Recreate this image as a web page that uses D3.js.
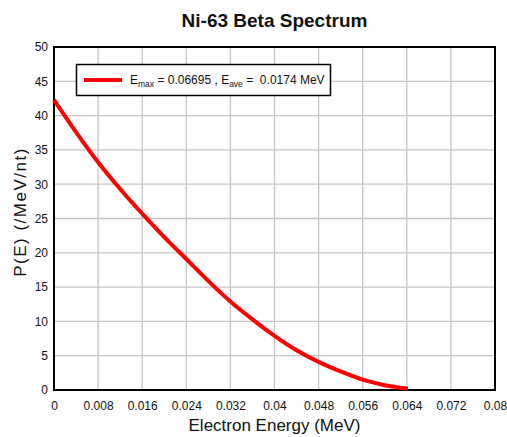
<!DOCTYPE html>
<html>
<head>
<meta charset="utf-8">
<script src="https://cdn.jsdelivr.net/npm/d3@7"></script>
<style>
  body { margin: 0; background: #fff; }
  svg { font-family: 'Liberation Sans', Arial, sans-serif; }
</style>
</head>
<body>
<div id="app"></div>
<script>
// energies (MeV) and probability P(E)
const energy = [0, 0.004, 0.008, 0.012, 0.016, 0.020, 0.024, 0.028, 0.032, 0.036, 0.040, 0.044, 0.048, 0.052, 0.056, 0.060, 0.0642]
const prob = [42.3, 37.6, 33.2, 29.3, 25.7, 22.3, 19.1, 15.9, 12.9, 10.3, 7.9, 5.8, 4.1, 2.7, 1.5, 0.7, 0.2]
const xTicks = [0, 0.008, 0.016, 0.024, 0.032, 0.04, 0.048, 0.056, 0.064, 0.072, 0.08]
const yTicks = [0, 5, 10, 15, 20, 25, 30, 35, 40, 45, 50]

const w = 507
const h = 437
const m = { left: 54, right: 12, top: 47, bottom: 47 }

const x = d3.scaleLinear().domain([0, 0.08]).range([m.left, w - m.right])
const y = d3.scaleLinear().domain([0, 50]).range([h - m.bottom, m.top])

const svg = d3.select('#app')
  .append('svg')
  .attr('width', w)
  .attr('height', h)

svg.append('text')
  .attr('x', 274.5)
  .attr('y', 27)
  .attr('text-anchor', 'middle')
  .style('font-size', '19px')
  .style('font-weight', 'bold')
  .attr('fill', '#111')
  .text('Ni-63 Beta Spectrum')

// grid
svg.append('g')
  .selectAll('line.vx')
  .data(xTicks.slice(1, -1))
  .enter()
  .append('line')
  .attr('x1', d => x(d)).attr('x2', d => x(d))
  .attr('y1', y(0)).attr('y2', y(50))
  .attr('stroke', '#c4c4c4').attr('stroke-width', 1.3)

svg.append('g')
  .selectAll('line.hy')
  .data(yTicks.slice(1, -1))
  .enter()
  .append('line')
  .attr('x1', x(0)).attr('x2', x(0.08))
  .attr('y1', d => y(d)).attr('y2', d => y(d))
  .attr('stroke', '#c4c4c4').attr('stroke-width', 1.3)

// axes labels
const xAxis = d3.axisBottom(x).tickValues(xTicks).tickSize(0).tickPadding(11).tickFormat(d => d3.format('')(+d.toFixed(3)))
const yAxis = d3.axisLeft(y).tickValues(yTicks).tickSize(0).tickPadding(6)

svg.append('g')
  .attr('transform', `translate(0, ${y(0)})`)
  .call(xAxis)
  .call(g => g.select('.domain').remove())
  .selectAll('text')
  .style('font-size', '12px')
  .style('font-family', "'Liberation Sans', Arial, sans-serif")
  .attr('fill', '#111')

svg.append('g')
  .attr('transform', `translate(${x(0)}, 0)`)
  .call(yAxis)
  .call(g => g.select('.domain').remove())
  .selectAll('text')
  .style('font-size', '12px')
  .style('font-family', "'Liberation Sans', Arial, sans-serif")
  .attr('fill', '#111')

// plot frame
svg.append('rect')
  .attr('x', x(0)).attr('y', y(50))
  .attr('width', x(0.08) - x(0))
  .attr('height', y(0) - y(50))
  .attr('fill', 'none')
  .attr('stroke', '#000')
  .attr('stroke-width', 2)

// curve
const line = d3.line()
  .x((d, i) => x(energy[i]))
  .y(d => y(d))
  .curve(d3.curveCatmullRom)

svg.append('path')
  .datum(prob)
  .attr('d', line)
  .attr('fill', 'none')
  .attr('stroke', '#ff0000')
  .attr('stroke-width', 4)

// legend
const lg = svg.append('g')
lg.append('rect')
  .attr('x', 76.5).attr('y', 64.5)
  .attr('width', 254).attr('height', 31)
  .attr('fill', '#fff')
  .attr('stroke', '#000')
  .attr('stroke-width', 1.5)
lg.append('line')
  .attr('x1', 84).attr('x2', 122)
  .attr('y1', 80).attr('y2', 80)
  .attr('stroke', '#ff0000')
  .attr('stroke-width', 4)
const lt = lg.append('text')
  .attr('x', 130).attr('y', 84)
  .style('font-size', '12px')
  .attr('fill', '#111')
  .attr('xml:space', 'preserve')
lt.append('tspan').text('E')
lt.append('tspan').attr('dy', 3).style('font-size', '8.5px').text('max')
lt.append('tspan').attr('dy', -3).text(' = 0.06695 , E')
lt.append('tspan').attr('dy', 3).style('font-size', '8.5px').text('ave')
lt.append('tspan').attr('dy', -3).text(' =  0.0174 MeV')

// axis titles
svg.append('text')
  .attr('x', 274.5)
  .attr('y', 431)
  .attr('text-anchor', 'middle')
  .style('font-size', '17px')
  .attr('fill', '#111')
  .text('Electron Energy (MeV)')

svg.append('text')
  .attr('transform', `translate(26, 212) rotate(-90)`)
  .attr('text-anchor', 'middle')
  .style('font-size', '17px')
  .style('letter-spacing', '1.5px')
  .attr('fill', '#111')
  .text('P(E) (/MeV/nt)')
</script>
</body>
</html>
